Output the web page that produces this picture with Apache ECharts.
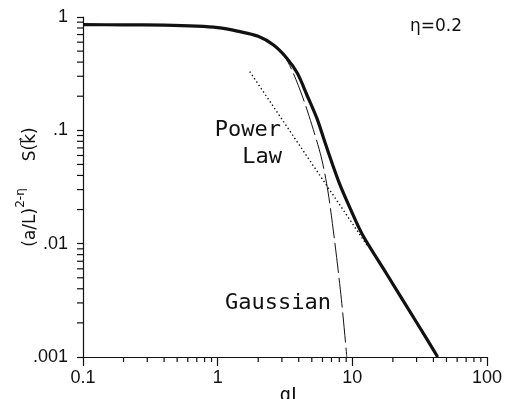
<!DOCTYPE html>
<html>
<head>
<meta charset="utf-8">
<script src="https://cdn.jsdelivr.net/npm/echarts@6/dist/echarts.min.js"></script>
<style>
  html, body { margin: 0; padding: 0; background: #fff; }
  #chart { width: 507px; height: 399px; }
</style>
</head>
<body>
<div id="chart"></div>
<script>
// full structure factor (thick solid curve)
const solidQ = [0.1, 0.2, 0.4, 0.7, 1.0, 1.4, 2.0, 2.6, 3.25, 3.9, 4.6, 5.45, 6.25, 7.15, 8.1, 9.6, 11.9, 18, 25, 35.5, 43];
const solidS = [0.855, 0.853, 0.847, 0.83, 0.805, 0.75, 0.675, 0.565, 0.435, 0.32, 0.205, 0.128, 0.079, 0.0495, 0.033, 0.0207, 0.012, 0.0054, 0.00287, 0.00146, 0.001];
// gaussian approximation (long dashes)
const gaussQ = [2.6, 3.1, 3.6, 4.3, 5.0, 5.9, 6.6, 7.4, 8.3, 9.1];
const gaussS = [0.56, 0.46, 0.33, 0.193, 0.112, 0.057, 0.0286, 0.0104, 0.0032, 0.001];
// power law asymptote (dotted)
const powerQ = [1.73, 13];
const powerS = [0.33, 0.0095];

const xTickValues = [0.1, 1, 10, 100];
const xTickLabels = ['0.1', '1', '10', '100'];
const yTickValues = [0.001, 0.01, 0.1, 1];
const yTickLabels = ['.001', '.01', '.1', '1'];
const minorSteps = [2, 3, 4, 5, 6, 7, 8, 9];

const ink = '#111';

function pickLabel(values, labels) {
  return function (v) {
    const i = values.findIndex(t => Math.abs(Math.log10(t) - Math.log10(v)) < 1e-6);
    return i >= 0 ? labels[i] : '';
  };
}
const zip = (a, b) => a.map((x, i) => [x, b[i]]);

const chart = echarts.init(document.getElementById('chart'));
chart.setOption({
  animation: false,
  backgroundColor: '#fff',
  grid: { left: 83, right: 20, top: 17, bottom: 42, containLabel: false, outerBoundsMode: 'none' },
  xAxis: {
    type: 'log',
    logBase: 10,
    min: 0.1,
    max: 100,
    name: 'qL',
    nameLocation: 'middle',
    nameGap: 30,
    nameMoveOverlap: false,
    nameTextStyle: { color: ink, fontSize: 19, fontFamily: 'DejaVu Sans Mono', padding: [0, 0, 0, 12] },
    axisLine: { lineStyle: { color: ink, width: 1.2 } },
    axisTick: { length: 9, lineStyle: { color: ink, width: 1.2 } },
    axisLabel: {
      color: ink, fontSize: 18, fontFamily: 'Liberation Sans', margin: 12,
      formatter: pickLabel(xTickValues, xTickLabels)
    },
    splitLine: { show: false }
  },
  yAxis: {
    type: 'log',
    logBase: 10,
    min: 0.001,
    max: 1,
    name: '{m|(a/L)}{s|2-η}{m|     S(k\u20D7)}',
    nameLocation: 'middle',
    nameRotate: 90,
    nameGap: 44,
    nameMoveOverlap: false,
    nameTextStyle: {
      color: ink,
      rich: {
        m: { fontSize: 17, fontFamily: 'DejaVu Sans', color: ink, lineHeight: 24, verticalAlign: 'bottom' },
        s: { fontSize: 12, fontFamily: 'DejaVu Sans', color: ink, lineHeight: 24, verticalAlign: 'top' }
      }
    },
    axisLine: { show: true, lineStyle: { color: ink, width: 1.2 } },
    axisTick: { show: true, length: 6, lineStyle: { color: ink, width: 1.2 } },
    axisLabel: {
      color: ink, fontSize: 18, fontFamily: 'Liberation Sans', margin: 15,
      formatter: pickLabel(yTickValues, yTickLabels)
    },
    splitLine: { show: false }
  },
  series: [
    {
      name: 'Power Law',
      type: 'line',
      data: zip(powerQ, powerS),
      showSymbol: false,
      lineStyle: { color: ink, width: 1.4, type: [1.4, 2.6] },
      z: 2
    },
    {
      name: 'Gaussian',
      type: 'line',
      data: zip(gaussQ, gaussS),
      showSymbol: false,
      smooth: 0.3,
      lineStyle: { color: ink, width: 1, type: [30, 5] },
      z: 3
    },
    {
      name: 'S(k)',
      type: 'line',
      data: zip(solidQ, solidS),
      showSymbol: false,
      smooth: 0.3,
      lineStyle: { color: ink, width: 3.2 },
      z: 4
    }
  ]
});

// minor log ticks (2..9 in each decade), placed through the axis scales
function minorTicks() {
  const els = [];
  const x0 = chart.convertToPixel({ xAxisIndex: 0 }, 0.1);
  const yBottom = chart.convertToPixel({ yAxisIndex: 0 }, 0.001);
  for (let d = 0; d < xTickValues.length - 1; d++) {
    minorSteps.forEach(m => {
      const px = chart.convertToPixel({ xAxisIndex: 0 }, xTickValues[d] * m);
      els.push({ type: 'line', shape: { x1: px, y1: yBottom, x2: px, y2: yBottom + 5 }, style: { stroke: ink, lineWidth: 1.2 } });
    });
  }
  for (let d = 0; d < yTickValues.length - 1; d++) {
    minorSteps.forEach(m => {
      const py = chart.convertToPixel({ yAxisIndex: 0 }, yTickValues[d] * m);
      els.push({ type: 'line', shape: { x1: x0 - 6, y1: py, x2: x0, y2: py }, style: { stroke: ink, lineWidth: 1.2 } });
    });
  }
  return els;
}

const notes = [
  { type: 'text', style: { text: 'η=0.2', x: 410, y: 27, fill: ink, font: '17px "DejaVu Sans"', verticalAlign: 'middle' } },
  { type: 'text', style: { text: 'Power', x: 281, y: 130, fill: ink, font: '22px "DejaVu Sans Mono"', align: 'right', verticalAlign: 'middle' } },
  { type: 'text', style: { text: 'Law', x: 282, y: 157, fill: ink, font: '22px "DejaVu Sans Mono"', align: 'right', verticalAlign: 'middle' } },
  { type: 'text', style: { text: 'Gaussian', x: 225, y: 303, fill: ink, font: '22px "DejaVu Sans Mono"', verticalAlign: 'middle' } }
];

chart.setOption({ graphic: minorTicks().concat(notes) });
</script>
</body>
</html>
